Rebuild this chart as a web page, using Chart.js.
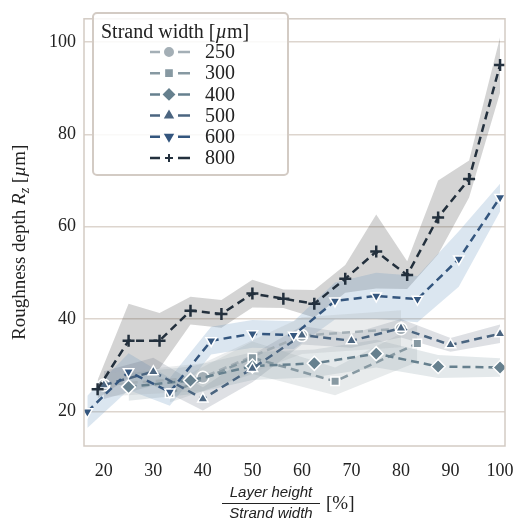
<!DOCTYPE html><html><head><meta charset="utf-8">
<script src="https://cdn.jsdelivr.net/npm/chart.js@4"></script>
<style>body{margin:0;background:#fff}#w{width:520px;height:526px}</style></head><body><div id="w"><canvas id="c"></canvas></div>
<script>
const seriesNames=["250","300","400","500","600","800"];
const x250=[20,40,60,80], y250=[25.7,27.4,36.4,37.9], e250=[2.5,3,4,4];
const x300=[33.3,50,66.7,83.3], y300=[23.9,31.6,26.5,34.7], e300=[2,3.5,3,4];
const x400=[25,37.5,50,62.5,75,87.5,100], y400=[25.3,26.7,29.8,30.4,32.5,29.7,29.5], e400=[3,3,3,3,3,2.5,2];
const x500=[20,30,40,50,60,70,80,90,100], y500=[25.7,28.6,22.7,29.3,36.5,35.3,38,34.4,36.8], e500=[3,3,2.5,3,2,1.5,2,1.5,2];
const x600=[16.67,25,33.33,41.67,50,58.33,66.67,75,83.33,91.67,100], y600=[19.9,28.6,24.2,35.3,36.8,36.5,43.9,45,44.3,53,66.3], e600=[3.5,4,3,3,3,3,4,5,5,6,3];
const x800=[18.75,25,31.25,37.5,43.75,50,56.25,62.5,68.75,75,81.25,87.5,93.75,100], y800=[24.8,35.3,35.3,41.8,41.1,45.5,44.4,43.3,48.7,54.6,49.5,62,70.3,95], e800=[2,8,6,3,3,3,2,3,3,8,3,8,4,6];
const xTicks=[20,30,40,50,60,70,80,90,100], yTicks=[20,40,60,80,100];
const cols=["#a4afb6","#8799a2","#66808e","#4b6580","#34567e","#23303d"];
const bandCols=["rgba(170,178,182,0.25)","rgba(150,162,168,0.22)","rgba(120,145,155,0.2)","rgba(90,100,120,0.2)","rgba(90,140,185,0.22)","rgba(60,60,60,0.22)"];
const markers=["circle","rect","rectRot","triangle","triangle","cross"];
const X=[x250,x300,x400,x500,x600,x800],Y=[y250,y300,y400,y500,y600,y800],E=[e250,e300,e400,e500,e600,e800];
const ds=[];
X.forEach((xs,i)=>{
  ds.push({data:xs.map((x,j)=>({x,y:Y[i][j]+E[i][j]})),borderWidth:0,pointRadius:0,fill:false,order:10+i});
  ds.push({data:xs.map((x,j)=>({x,y:Y[i][j]-E[i][j]})),borderWidth:0,pointRadius:0,fill:'-1',backgroundColor:bandCols[i],order:10+i});
});
X.forEach((xs,i)=>{
  ds.push({data:xs.map((x,j)=>({x,y:Y[i][j]})),borderColor:cols[i],backgroundColor:cols[i],borderWidth:2.5,borderDash:[8,5],
    pointStyle:markers[i],pointRadius:i==2?7:6,pointRotation:i==4?180:0,pointBorderColor:i==5?cols[i]:'#fff',pointBorderWidth:i==5?2.5:1.5,fill:false,order:5-i});
});
const deco={id:'deco',afterDraw(ch){const c=ch.ctx,a=ch.chartArea;c.save();
 c.strokeStyle='#d3cbc4';c.lineWidth=1.5;c.strokeRect(a.left,a.top,a.right-a.left,a.bottom-a.top);
 c.fillStyle='rgba(255,255,255,0.85)';c.strokeStyle='#d3cbc4';c.lineWidth=2;
 c.beginPath();c.roundRect(93,13,195,162,4);c.fill();c.stroke();
 c.fillStyle='#222';c.font='20px "Liberation Serif"';c.textBaseline='middle';c.textAlign='left';
 c.fillText('Strand width [',101,33);let w=c.measureText('Strand width [').width;
 c.font='italic 20px "Liberation Serif"';c.fillText('µ',101+w,33);w+=c.measureText('µ').width;
 c.font='20px "Liberation Serif"';c.fillText('m]',101+w,33);
 seriesNames.forEach((n,i)=>{const y=52+i*21.2;c.strokeStyle=cols[i];c.lineWidth=2.5;c.setLineDash([]);
  c.beginPath();c.moveTo(150,y);c.lineTo(160,y);c.moveTo(178,y);c.lineTo(190,y);c.stroke();
  c.fillStyle=cols[i];c.strokeStyle=cols[i];c.lineWidth=2;
  Chart.helpers.drawPoint(c,{pointStyle:markers[i],radius:i==2?5:4,rotation:i==4?180:0,borderWidth:i==5?2:0.5},169,y);
  c.fillStyle='#222';c.font='20px "Liberation Serif"';c.fillText(n,205,y+1);});
 c.translate(20,a.top+(a.bottom-a.top)/2+10);c.rotate(-Math.PI/2);c.textAlign='left';
 const parts=[['Roughness depth ','19px'],['R','italic 19px'],['z','italic 14px',5],[' [','19px'],['µ','italic 19px'],['m]','19px']];
 let tw=0;parts.forEach(p=>{c.font=p[1]+' "Liberation Serif"';tw+=c.measureText(p[0]).width;});
 let xx=-tw/2;c.fillStyle='#222';parts.forEach(p=>{c.font=p[1]+' "Liberation Serif"';c.fillText(p[0],xx,p[2]||0);xx+=c.measureText(p[0]).width;});
 c.setTransform(ch.currentDevicePixelRatio,0,0,ch.currentDevicePixelRatio,0,0);
 c.font='italic 15px "Liberation Sans"';c.textAlign='center';c.fillStyle='#222';
 c.fillText('Layer height',271,493);c.fillText('Strand width',271,514);
 c.strokeStyle='#222';c.lineWidth=1;c.beginPath();c.moveTo(222,503.5);c.lineTo(320,503.5);c.stroke();
 c.font='19px "Liberation Serif"';c.textAlign='left';c.fillText('[%]',326,504);
 c.restore();}};
new Chart(document.getElementById('c'),{type:'line',data:{datasets:ds},plugins:[deco],
 options:{responsive:true,maintainAspectRatio:false,animation:false,layout:{padding:{top:6,right:15}},
  plugins:{legend:{display:false},tooltip:{enabled:false}},
  scales:{x:{type:'linear',min:16,max:101,afterBuildTicks:s=>{s.ticks=xTicks.map(v=>({value:v}))},afterFit:s=>{s.height=80},
    grid:{display:false},border:{display:false},ticks:{color:'#222',font:{family:'Liberation Serif',size:18},padding:6}},
   y:{min:12.5,max:105,afterBuildTicks:s=>{s.ticks=yTicks.map(v=>({value:v}))},afterFit:s=>{s.width=84},
    grid:{color:'#ddd5ce',lineWidth:1.5,drawTicks:false},border:{display:false},ticks:{color:'#222',font:{family:'Liberation Serif',size:18},padding:8}}}}});
</script></body></html>
